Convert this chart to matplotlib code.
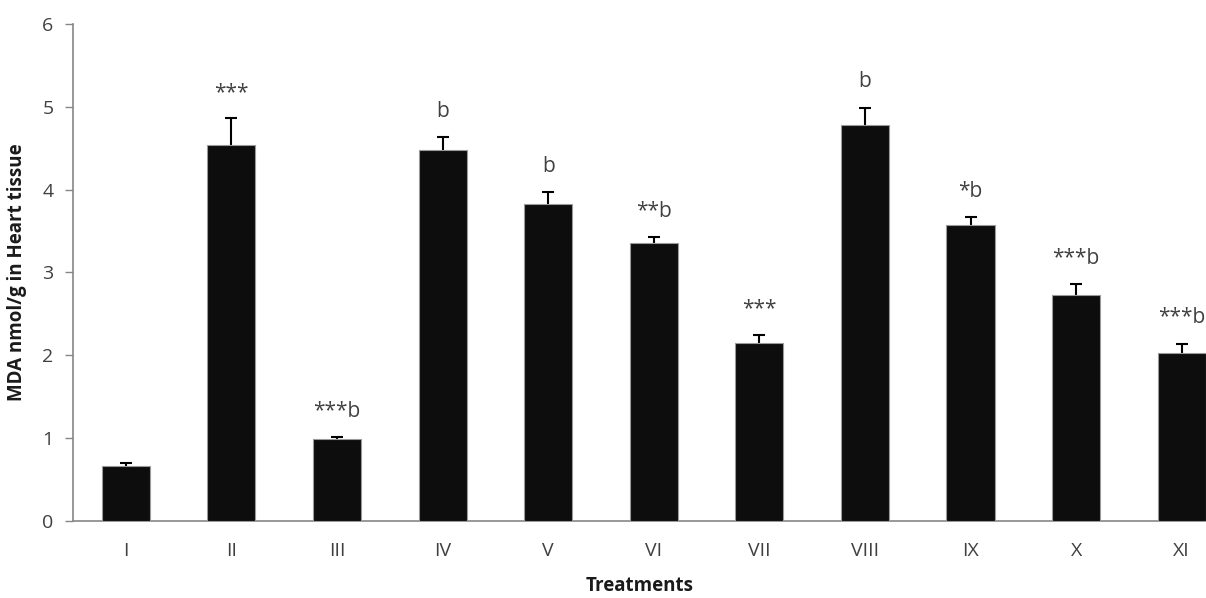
import matplotlib.pyplot as plt
import numpy as np

plt.rcParams['font.family'] = ['Open Sans', 'DejaVu Sans']

treatments = ['I', 'II', 'III', 'IV', 'V', 'VI', 'VII', 'VIII', 'IX', 'X', 'XI']
mda = [0.66, 4.54, 0.99, 4.48, 3.83, 3.35, 2.15, 4.78, 3.57, 2.73, 2.03]
sem = [0.04, 0.32, 0.02, 0.15, 0.14, 0.08, 0.10, 0.21, 0.10, 0.13, 0.11]
marks = ['', '***', '***b', 'b', 'b', '**b', '***', 'b', '*b', '***b', '***b']

fig = plt.figure(figsize=(12.06, 5.98), dpi=100)
ax = fig.add_axes([0.0605, 0.1288, 0.9395, 0.8312])

x = np.arange(len(treatments))
ax.bar(x, mda, width=0.455, color='#0d0d0d', edgecolor='#9a9a9a', linewidth=0.8, zorder=3)
# error bars drawn under the bars so only the upper half shows
ax.errorbar(x, mda, yerr=sem, fmt='none', ecolor='black',
            elinewidth=1.5, capsize=4.5, capthick=1.5, zorder=2)

for xi, top, m in zip(x, np.array(mda) + np.array(sem), marks):
    if m:
        ax.annotate(m, (xi, top), xytext=(0, 11), textcoords='offset points',
                    ha='center', va='bottom', fontsize=15, color='#404040')

ax.set_xlim(-0.5, 10.23)
ax.set_ylim(0, 6)
ax.set_yticks(range(7))
ax.set_xticks(x)
ax.set_xticklabels(treatments)
ax.tick_params(axis='x', length=0, pad=15, labelsize=14, labelcolor='#404040')
ax.tick_params(axis='y', length=6, width=1, color='#868686', pad=8, labelsize=14, labelcolor='#404040')
for s in ['top', 'right']:
    ax.spines[s].set_visible(False)
for s in ['left', 'bottom']:
    ax.spines[s].set_color('#868686')
    ax.spines[s].set_linewidth(1.2)

ax.set_ylabel('MDA nmol/g in Heart tissue', fontsize=13.5, fontweight='bold', color='#1a1a1a')
ax.yaxis.set_label_coords(-0.041, 0.5)
ax.set_xlabel('Treatments', fontsize=13.5, fontweight='bold', color='#1a1a1a')
ax.xaxis.set_label_coords(0.5, -0.11)

fig.savefig('out.png', dpi=100)
